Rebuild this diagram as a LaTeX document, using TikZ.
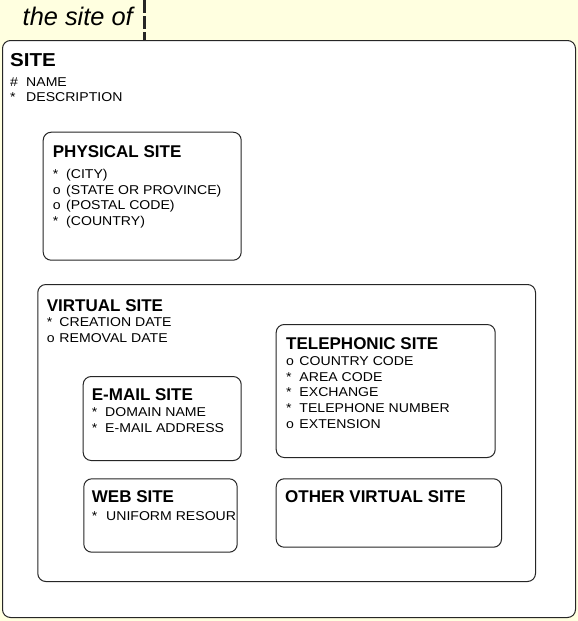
\documentclass[tikz,border=0pt]{standalone}
\usepackage{fontspec}
\setmainfont{Liberation Sans}
\newfontfamily\boxfont[FakeStretch=1.1]{Liberation Sans}
\usepackage{xcolor}
\usepackage{tikz}
\usetikzlibrary{positioning}
\definecolor{paper}{HTML}{FFFFE0}
\definecolor{edge}{HTML}{262626}
\newcommand{\mk}[2][13.3pt]{\makebox[#1][l]{#2}}

\begin{document}
\begin{tikzpicture}[
  x=1pt, y=-1pt,
  ent/.style={draw=edge, line width=1pt, rounded corners=8pt, fill=white,
              anchor=north west, inner sep=0pt},
  ttl/.style={font=\bfseries\fontsize{17}{20}\selectfont,
              anchor=base west, inner sep=0pt},
  att/.style={font=\boxfont\fontsize{12.8}{15}\selectfont,
              anchor=base west, inner sep=0pt}
]
\fill[paper] (0,0) rectangle (578,621);
\useasboundingbox (0,0) rectangle (578,621);

% relationship label and its dashed end
\node[font=\itshape\fontsize{25.4}{30}\selectfont, anchor=base west, inner sep=0pt]
  (rel) at (22.5,25) {the site of};
\coordinate (relend) at (144,0);

% supertype
\node[ent, minimum width=573, minimum height=577] (site) at (2,40) {};
\node[ttl, font=\boxfont\bfseries\fontsize{18.7}{22}\selectfont] (site-t) at (10,66.7) {SITE};
\node[att] (site-1) at (10,86)    {\mk[16pt]{\#}NAME};
\node[att] (site-2) at (10,101.7) {\mk[16pt]{*}DESCRIPTION};

\draw[edge, line width=3pt, dash pattern=on 13pt off 3pt] (relend) -- (relend |- site.north);

% physical
\node[ent, minimum width=198, minimum height=128] (phys) at (42.7,131.7) {};
\node[ttl] (phys-t) at (52.7,157.3) {PHYSICAL SITE};
\node[att] (phys-1) at (52.7,178.5) {\mk{*}(CITY)};
\node[att] (phys-2) at (52.7,194)   {\mk{o}(STATE OR PROVINCE)};
\node[att] (phys-3) at (52.7,209.5) {\mk{o}(POSTAL CODE)};
\node[att] (phys-4) at (52.7,225)   {\mk{*}(COUNTRY)};

% virtual
\node[ent, minimum width=497.7, minimum height=297] (virt) at (37.3,284) {};
\node[ttl] (virt-t) at (46.7,311.7) {VIRTUAL SITE};
\node[att] (virt-1) at (46.7,326.7) {\mk[12.6pt]{*}CREATION DATE};
\node[att] (virt-2) at (46.7,342.7) {\mk[12.6pt]{o}REMOVAL DATE};

% telephonic
\node[ent, minimum width=219, minimum height=133] (tel) at (275.7,324) {};
\node[ttl] (tel-t) at (286,349.3) {TELEPHONIC SITE};
\node[att] (tel-1) at (286,365)   {\mk{o}COUNTRY CODE};
\node[att] (tel-2) at (286,381)   {\mk{*}AREA CODE};
\node[att] (tel-3) at (286,396.7) {\mk{*}EXCHANGE};
\node[att] (tel-4) at (286,412.3) {\mk{*}TELEPHONE NUMBER};
\node[att] (tel-5) at (286,428.3) {\mk{o}EXTENSION};

% e-mail
\node[ent, minimum width=158, minimum height=84] (mail) at (82.7,376) {};
\node[ttl] (mail-t) at (91.7,400) {E-MAIL SITE};
\node[att] (mail-1) at (91.7,416.7) {\mk{*}DOMAIN NAME};
\node[att] (mail-2) at (91.7,432.7) {\mk{*}E-MAIL ADDRESS};

% web
\node[ent, minimum width=153.4, minimum height=73.4] (web) at (83.3,478.3) {};
\node[ttl] (web-t) at (91.7,502.3) {WEB SITE};
\node[att] (web-1) at (91.7,520) {\mk[14.3pt]{*}UNIFORM RESOUR};

% other
\node[ent, minimum width=225.3, minimum height=68.4] (oth) at (275.7,478.3) {};
\node[ttl] (oth-t) at (285,502.3) {OTHER VIRTUAL SITE};
\end{tikzpicture}
\end{document}
